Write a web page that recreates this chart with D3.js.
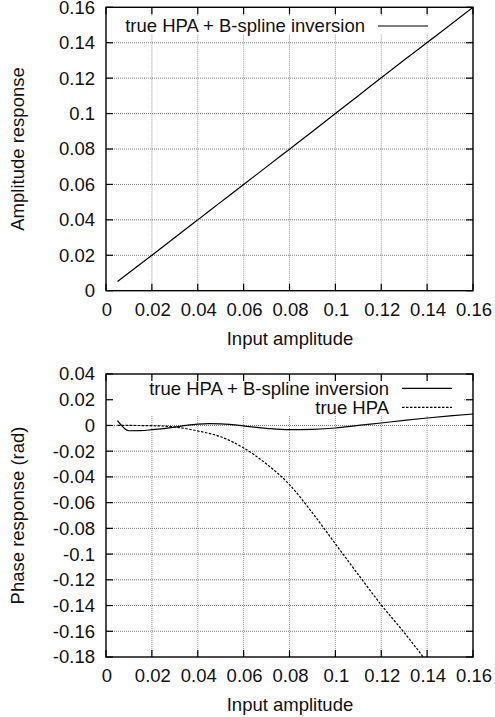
<!DOCTYPE html>
<html>
<head>
<meta charset="utf-8">
<script src="https://cdn.jsdelivr.net/npm/d3@7"></script>
<style>
  body { margin: 0; background: #fff; }
  svg text { font-family: "Liberation Sans", Arial, Helvetica, sans-serif; font-size: 18.5px; fill: #111; }
</style>
</head>
<body>
<div id="chart"></div>
<script>
// data
var ampInput = [0.005, 0.01, 0.02, 0.03, 0.04, 0.05, 0.06, 0.07, 0.08, 0.09, 0.10, 0.11, 0.12, 0.13, 0.14, 0.15, 0.16];
var ampOutput = [0.0052, 0.0101, 0.0200, 0.0300, 0.0400, 0.0500, 0.0600, 0.0699, 0.0799, 0.0899, 0.1000, 0.1101, 0.1202, 0.1302, 0.1401, 0.1500, 0.1600];

var phaseInput = [0.005, 0.01, 0.015, 0.02, 0.025, 0.03, 0.035, 0.04, 0.045, 0.05, 0.055, 0.06, 0.07, 0.08, 0.09, 0.10, 0.11, 0.12, 0.13, 0.14, 0.15, 0.16];
var phaseInverted = [0.0037, -0.0041, -0.0040, -0.0033, -0.0024, -0.0013, 0.0000, 0.0010, 0.0014, 0.0013, 0.0006, -0.0004, -0.0022, -0.0033, -0.0030, -0.0020, 0.0000, 0.0019, 0.0040, 0.0058, 0.0074, 0.0089];

var hpaInput = [0.005, 0.01, 0.02, 0.03, 0.04, 0.05, 0.06, 0.07, 0.08, 0.09, 0.10, 0.11, 0.12, 0.13, 0.14];
var hpaPhase = [0.0, 0.0, -0.0002, -0.0012, -0.0043, -0.0088, -0.0175, -0.030, -0.046, -0.068, -0.092, -0.116, -0.1395, -0.161, -0.184];

var xTicks = [0, 0.02, 0.04, 0.06, 0.08, 0.1, 0.12, 0.14, 0.16];
var ampTicks = [0, 0.02, 0.04, 0.06, 0.08, 0.1, 0.12, 0.14, 0.16];
var phaseTicks = [0.04, 0.02, 0, -0.02, -0.04, -0.06, -0.08, -0.1, -0.12, -0.14, -0.16, -0.18];

var width = 495, height = 717;
var left = 106, right = 473;

var svg = d3.select('#chart').append('svg')
    .attr('width', width)
    .attr('height', height);

function panel(opts) {
    var x = d3.scaleLinear().domain([0, 0.16]).range([left, right]);
    var y = d3.scaleLinear().domain(opts.yDomain).range([opts.bottom, opts.top]);
    var g = svg.append('g');

    g.append('clipPath').attr('id', opts.id)
        .append('rect')
        .attr('x', left).attr('y', opts.top)
        .attr('width', right - left).attr('height', opts.bottom - opts.top);

    // grid
    g.selectAll('.vgrid').data(xTicks.slice(1, -1)).enter().append('line')
        .attr('x1', d => x(d)).attr('x2', d => x(d))
        .attr('y1', opts.top).attr('y2', opts.bottom)
        .attr('stroke', '#9a9a9a').attr('stroke-width', 1)
        .attr('stroke-dasharray', '1,1');
    g.selectAll('.hgrid').data(opts.yTicks.filter(d => d !== opts.yDomain[0] && d !== opts.yDomain[1])).enter().append('line')
        .attr('x1', left).attr('x2', right)
        .attr('y1', d => y(d)).attr('y2', d => y(d))
        .attr('stroke', '#555').attr('stroke-width', 0.8)
        .attr('stroke-dasharray', '1,1');

    // key background (hides grid behind the key)
    g.append('rect')
        .attr('x', opts.key.box[0]).attr('y', opts.key.box[1])
        .attr('width', opts.key.box[2]).attr('height', opts.key.box[3])
        .attr('fill', '#fff');

    // series
    opts.series.forEach(function (s) {
        var line = d3.line()
            .x((d, i) => x(s.x[i]))
            .y(d => y(d))
            .curve(d3.curveMonotoneX);
        g.append('path')
            .datum(s.y)
            .attr('clip-path', 'url(#' + opts.id + ')')
            .attr('d', line)
            .attr('fill', 'none')
            .attr('stroke', '#000')
            .attr('stroke-width', 1.2)
            .attr('stroke-dasharray', s.dash || null);
    });

    // border
    g.append('rect')
        .attr('x', left).attr('y', opts.top)
        .attr('width', right - left).attr('height', opts.bottom - opts.top)
        .attr('fill', 'none').attr('stroke', '#000').attr('stroke-width', 1.4);

    // inward ticks on all four sides
    var tl = 7;
    xTicks.forEach(function (d) {
        g.append('line').attr('x1', x(d)).attr('x2', x(d))
            .attr('y1', opts.bottom).attr('y2', opts.bottom - tl)
            .attr('stroke', '#000').attr('stroke-width', 1.2);
        g.append('line').attr('x1', x(d)).attr('x2', x(d))
            .attr('y1', opts.top).attr('y2', opts.top + tl)
            .attr('stroke', '#000').attr('stroke-width', 1.2);
    });
    opts.yTicks.forEach(function (d) {
        g.append('line').attr('x1', left).attr('x2', left + tl)
            .attr('y1', y(d)).attr('y2', y(d))
            .attr('stroke', '#000').attr('stroke-width', 1.2);
        g.append('line').attr('x1', right).attr('x2', right - tl)
            .attr('y1', y(d)).attr('y2', y(d))
            .attr('stroke', '#000').attr('stroke-width', 1.2);
    });

    // tick labels
    g.selectAll('.xl').data(xTicks).enter().append('text')
        .attr('x', d => x(d) + 1)
        .attr('y', opts.bottom + 18.5)
        .attr('dy', '0.35em')
        .attr('text-anchor', 'middle')
        .text(d => String(d));
    g.selectAll('.yl').data(opts.yTicks).enter().append('text')
        .attr('x', 95)
        .attr('y', d => y(d))
        .attr('dy', '0.35em')
        .attr('text-anchor', 'end')
        .text(d => String(d));

    // axis titles
    g.append('text')
        .attr('x', 290).attr('y', opts.bottom + 48)
        .attr('dy', '0.35em')
        .attr('text-anchor', 'middle')
        .text('Input amplitude');
    g.append('text')
        .attr('transform', 'translate(18,' + ((opts.top + opts.bottom) / 2) + ') rotate(-90)')
        .attr('dy', '0.35em')
        .attr('text-anchor', 'middle')
        .text(opts.yTitle);

    // key
    opts.series.forEach(function (s, i) {
        var ky = opts.key.y + i * opts.key.step;
        g.append('text')
            .attr('x', opts.key.textEnd).attr('y', ky)
            .attr('dy', '0.35em')
            .attr('text-anchor', 'end')
            .text(s.name);
        g.append('line')
            .attr('x1', opts.key.lineX[0]).attr('x2', opts.key.lineX[1])
            .attr('y1', ky).attr('y2', ky)
            .attr('stroke', '#000').attr('stroke-width', 1.2)
            .attr('stroke-dasharray', s.dash || null);
    });
}

panel({
    id: 'clipAmp',
    top: 7.3, bottom: 290.7,
    yDomain: [0, 0.16],
    yTicks: ampTicks,
    yTitle: 'Amplitude response',
    series: [
        { name: 'true HPA + B-spline inversion', x: ampInput, y: ampOutput }
    ],
    key: { y: 26, step: 19, textEnd: 365, lineX: [378, 428], box: [110, 16, 335, 18] }
});

panel({
    id: 'clipPhase',
    top: 374, bottom: 657,
    yDomain: [-0.18, 0.04],
    yTicks: phaseTicks,
    yTitle: 'Phase response (rad)',
    series: [
        { name: 'true HPA + B-spline inversion', x: phaseInput, y: phaseInverted },
        { name: 'true HPA', x: hpaInput, y: hpaPhase, dash: '2.5,1.5' }
    ],
    key: { y: 388.3, step: 19, textEnd: 389, lineX: [402, 452], box: [110, 378, 353, 37] }
});
</script>
</body>
</html>
